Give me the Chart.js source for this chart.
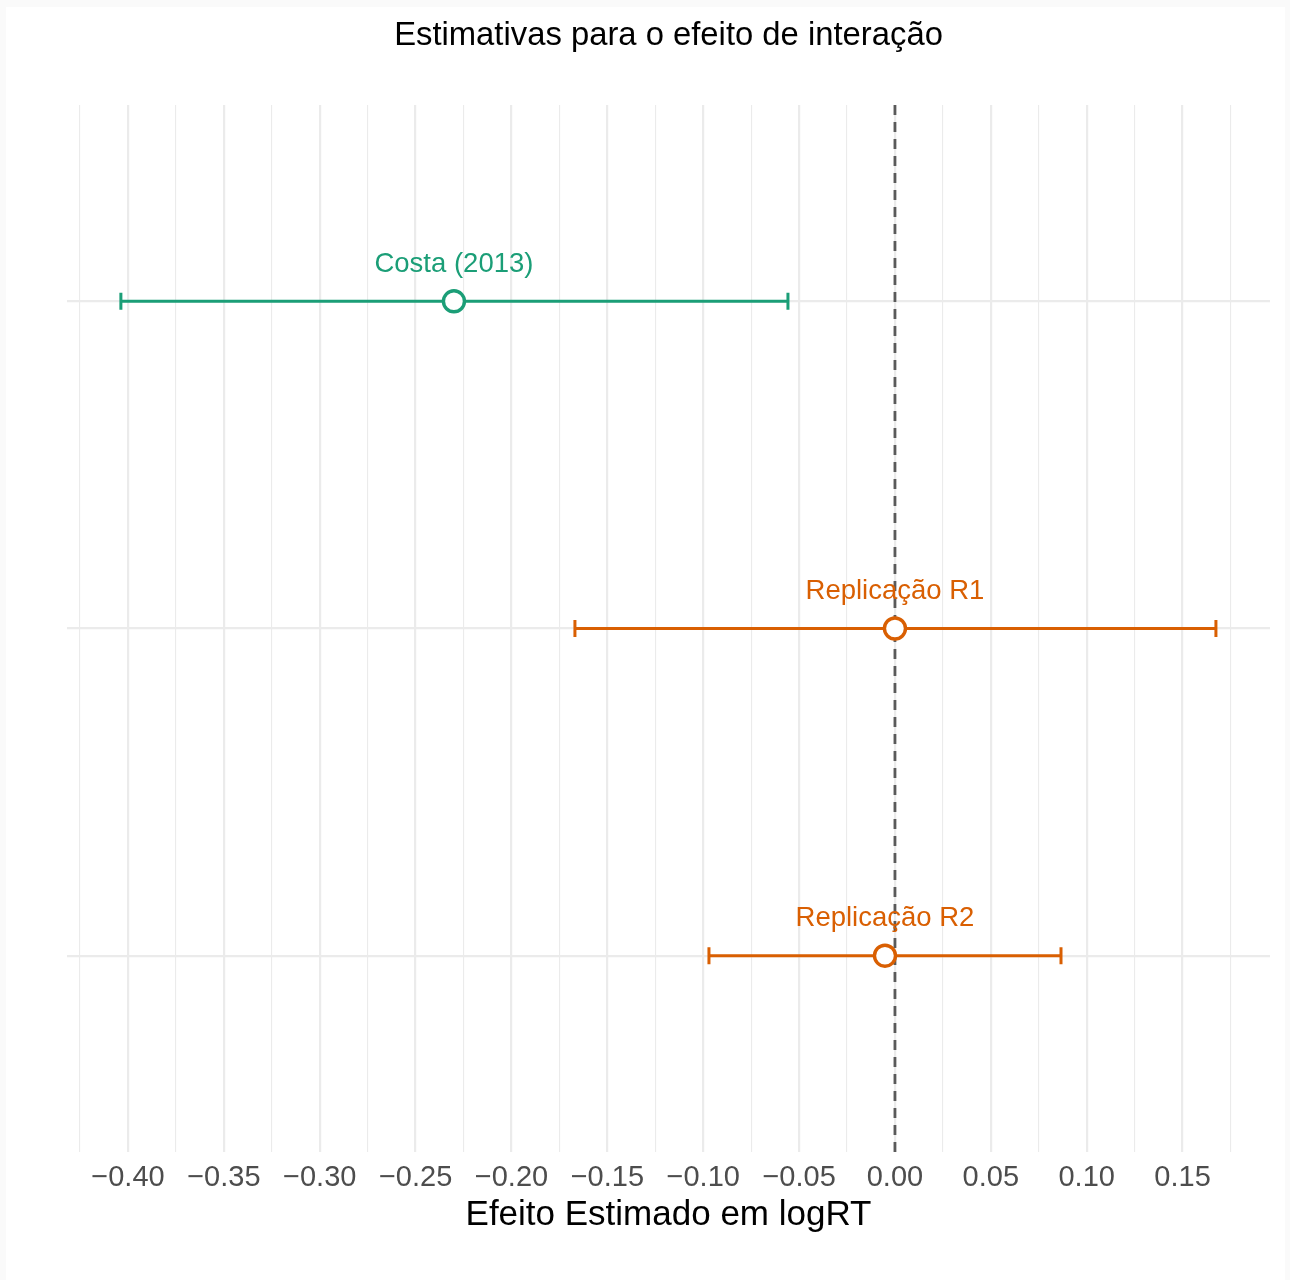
<!DOCTYPE html>
<html>
<head>
<meta charset="utf-8">
<script src="https://cdn.jsdelivr.net/npm/chart.js@4.4.1/dist/chart.umd.min.js"></script>
<style>
  html, body { margin: 0; padding: 0; background: #fafafa; }
  #wrap { position: absolute; left: 0; top: 0; width: 1290px; height: 1280px; }
</style>
</head>
<body>
<div id="wrap"><canvas id="c"></canvas></div>
<script>
// ---- data ----
const studies = ['Costa (2013)', 'Replicação R1', 'Replicação R2'];
const groups = ['original', 'replicação', 'replicação'];
const estimates = [-0.230, 0.000, -0.0052];
const lowerCI = [-0.4037, -0.1669, -0.0970];
const upperCI = [-0.0558, 0.1674, 0.0866];
const rowPositions = [3, 2, 1];
const majorTicks = [-0.40, -0.35, -0.30, -0.25, -0.20, -0.15, -0.10, -0.05, 0.00, 0.05, 0.10, 0.15];
const tickLabels = ['\u22120.40', '\u22120.35', '\u22120.30', '\u22120.25', '\u22120.20', '\u22120.15', '\u22120.10', '\u22120.05', '0.00', '0.05', '0.10', '0.15'];
const minorTicks = [-0.425, -0.375, -0.325, -0.275, -0.225, -0.175, -0.125, -0.075, -0.025, 0.025, 0.075, 0.125, 0.175];
const referenceLine = 0;
const titleText = 'Estimativas para o efeito de interação';
const xTitle = 'Efeito Estimado em logRT';

const groupColors = { 'original': '#1b9e77', 'replicação': '#d95f02' };
const pointColors = groups.map(g => groupColors[g]);
const FONT = '"Liberation Sans", Arial, Helvetica, sans-serif';

const allTicks = majorTicks.concat(minorTicks).sort((a, b) => a - b);
function isMajor(v) { return majorTicks.some(m => Math.abs(m - v) < 1e-9); }
function labelFor(v) {
  const i = majorTicks.findIndex(m => Math.abs(m - v) < 1e-9);
  return i >= 0 ? tickLabels[i] : '';
}

const bgPlugin = {
  id: 'bg',
  beforeDraw(chart) {
    const ctx = chart.ctx;
    ctx.save();
    ctx.fillStyle = '#fafafa';
    ctx.fillRect(0, 0, chart.width, chart.height);
    ctx.fillStyle = '#ffffff';
    ctx.fillRect(6, 7, 1279, 1273);
    ctx.restore();
  }
};

const forestPlugin = {
  id: 'forest',
  beforeDatasetsDraw(chart) {
    const ctx = chart.ctx;
    const xs = chart.scales.x, ys = chart.scales.y;
    const ca = chart.chartArea;
    ctx.save();
    // dashed reference line
    const x0 = xs.getPixelForValue(referenceLine);
    ctx.strokeStyle = '#5a5a5a';
    ctx.lineWidth = 2.8;
    ctx.setLineDash([10, 7]);
    ctx.beginPath();
    ctx.moveTo(x0, ca.top);
    ctx.lineTo(x0, ca.bottom);
    ctx.stroke();
    ctx.setLineDash([]);
    // error bars
    for (let i = 0; i < studies.length; i++) {
      const y = ys.getPixelForValue(rowPositions[i]);
      const xl = xs.getPixelForValue(lowerCI[i]);
      const xh = xs.getPixelForValue(upperCI[i]);
      ctx.strokeStyle = pointColors[i];
      ctx.lineWidth = 3;
      ctx.beginPath();
      ctx.moveTo(xl, y); ctx.lineTo(xh, y);
      ctx.moveTo(xl, y - 8.5); ctx.lineTo(xl, y + 8.5);
      ctx.moveTo(xh, y - 8.5); ctx.lineTo(xh, y + 8.5);
      ctx.stroke();
    }
    ctx.restore();
  },
  afterDatasetsDraw(chart) {
    const ctx = chart.ctx;
    const xs = chart.scales.x, ys = chart.scales.y;
    ctx.save();
    ctx.font = '27.5px ' + FONT;
    ctx.textAlign = 'center';
    ctx.textBaseline = 'middle';
    for (let i = 0; i < studies.length; i++) {
      const y = ys.getPixelForValue(rowPositions[i]);
      const x = xs.getPixelForValue(estimates[i]);
      ctx.fillStyle = pointColors[i];
      ctx.fillText(studies[i], x, y - 37);
    }
    // main title
    const ca = chart.chartArea;
    ctx.fillStyle = '#000000';
    ctx.font = '32.8px ' + FONT;
    ctx.fillText(titleText, (ca.left + ca.right) / 2, 36);
    ctx.restore();
  }
};

new Chart(document.getElementById('c'), {
  type: 'scatter',
  data: {
    datasets: [{
      data: estimates.map((e, i) => ({ x: e, y: rowPositions[i] })),
      pointRadius: 10.5,
      pointHoverRadius: 10.5,
      pointBorderWidth: 3.4,
      pointBackgroundColor: '#ffffff',
      pointBorderColor: pointColors,
      showLine: false
    }]
  },
  options: {
    responsive: true,
    maintainAspectRatio: false,
    animation: false,
    events: [],
    layout: { padding: { left: 67, right: 20, top: 105, bottom: 0 } },
    plugins: { legend: { display: false }, tooltip: { enabled: false }, title: { display: false } },
    scales: {
      x: {
        type: 'linear',
        min: -0.4318,
        max: 0.1956,
        afterBuildTicks(scale) { scale.ticks = allTicks.map(v => ({ value: v })); },
        afterFit(scale) { scale.height = 128; },
        border: { display: false },
        grid: {
          drawTicks: false,
          color: '#ebebeb',
          lineWidth: ctx => (ctx.tick && isMajor(ctx.tick.value)) ? 2.2 : 1.1
        },
        ticks: {
          autoSkip: false,
          maxRotation: 0,
          padding: 9,
          color: '#4d4d4d',
          font: { family: FONT, size: 29 },
          callback: v => labelFor(v)
        },
        title: {
          display: true,
          text: xTitle,
          color: '#000000',
          font: { family: FONT, size: 35 },
          padding: { top: 0, bottom: 44 }
        }
      },
      y: {
        type: 'linear',
        min: 0.4,
        max: 3.6,
        afterBuildTicks(scale) { scale.ticks = rowPositions.map(v => ({ value: v })); },
        afterFit(scale) { scale.width = 0; },
        border: { display: false },
        grid: { drawTicks: false, color: '#ebebeb', lineWidth: 2.2 },
        ticks: { display: false }
      }
    }
  },
  plugins: [bgPlugin, forestPlugin]
});
</script>
</body>
</html>
